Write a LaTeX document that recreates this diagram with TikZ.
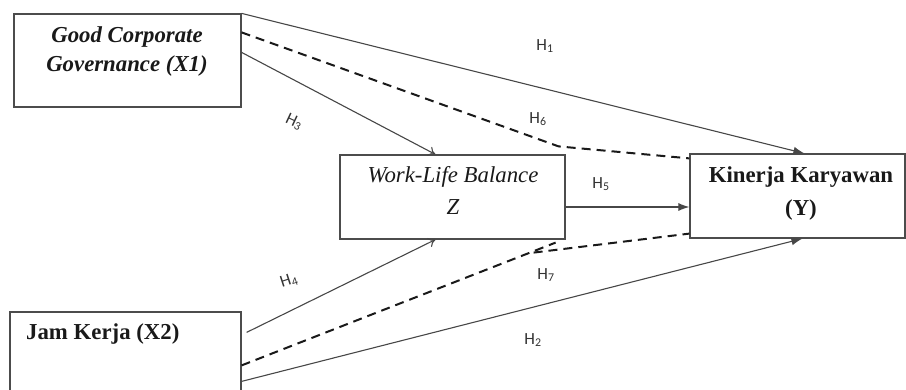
\documentclass[tikz,border=0pt]{standalone}
\usepackage{fontspec}
\setmainfont{Liberation Serif}
\newfontfamily\labfont{Carlito}
\usetikzlibrary{arrows.meta,calc}
\begin{document}
\begin{tikzpicture}[x=1pt,y=-1pt,
 box/.style={draw=black!70, line width=1.2pt, inner sep=0pt},
 txt/.style={inner sep=0pt, anchor=base, font=\fontsize{22.8}{28}\selectfont, text=black!90},
 hlab/.style={inner sep=0pt, font=\labfont\fontsize{17}{19}\selectfont, text=black!80},
 sol/.style={draw=black!72, line width=1.1pt},
 dsh/.style={draw=black!90, line width=2pt, dash pattern=on 9pt off 6pt},
 toz/.style={-{To[length=7pt,width=10pt]}},
 toy/.style={-{Latex[length=11pt,width=8pt]}}]
\useasboundingbox (0,0) rectangle (906,390);

% boxes
\node[box, minimum width=227pt, minimum height=93pt] (x1) at (127.5,60.5) {};
\node[box, minimum width=225pt, minimum height=84pt] (z) at (452.5,197) {};
\node[box, minimum width=215pt, minimum height=84pt] (y) at (797.5,196) {};
\node[box, minimum width=231pt, minimum height=83pt] (x2) at (125.5,353.5) {};

% texts
\node[txt] (x1a) at (127,43) {\bfseries\itshape Good Corporate};
\node[txt] (x1b) at (127,72) {\bfseries\itshape Governance (X1)};
\node[txt] (za) at (453,183) {\itshape Work-Life Balance};
\node[txt] (zb) at (453,215) {\itshape Z};
\node[txt] (ya) at (801,183) {\bfseries Kinerja Karyawan};
\node[txt] (yb) at (801,216) {\bfseries (Y)};
\node[txt, anchor=base west] (x2t) at (26,340) {\bfseries Jam Kerja (X2)};

% connectors
\draw[sol,toy] (x1.north east) -- ($(y.north west)+(115,0)$);
\draw[dsh] ($(x1.north east)+(0,19)$) -- ($(z.north east)+(-7,-8)$) -- ($(y.north west)+(0,5)$);
\draw[sol,toz] ($(x1.north east)+(0,39)$) -- ($(z.north west)+(96,0)$);
\draw[sol,toz] ($(x2.north east)+(5,21)$) -- ($(z.south west)+(96,0)$);
\draw[sol,toy] ($(z.east)+(0,10)$) -- ($(y.west)+(0,11)$);
\draw[dsh] ($(x2.north east)+(0,54)$) -- ($(z.south east)+(-10,3)$);
\draw[dsh] ($(z.south east)+(-32,13)$) -- ($(y.south west)+(0,-5)$);
\draw[sol,toy] ($(x2.north east)+(0,70)$) -- ($(y.south west)+(113,0)$);

% labels
\node[hlab] (h1) at (545,46) {H\textsubscript{1}};
\node[hlab] (h6) at (538,119) {H\textsubscript{6}};
\node[hlab, rotate=-25] (h3) at (294,122) {H\textsubscript{3}};
\node[hlab] (h5) at (601,184) {H\textsubscript{5}};
\node[hlab, rotate=18] (h4) at (289,281) {H\textsubscript{4}};
\node[hlab] (h7) at (546,275) {H\textsubscript{7}};
\node[hlab] (h2) at (533,340) {H\textsubscript{2}};
\end{tikzpicture}
\end{document}
